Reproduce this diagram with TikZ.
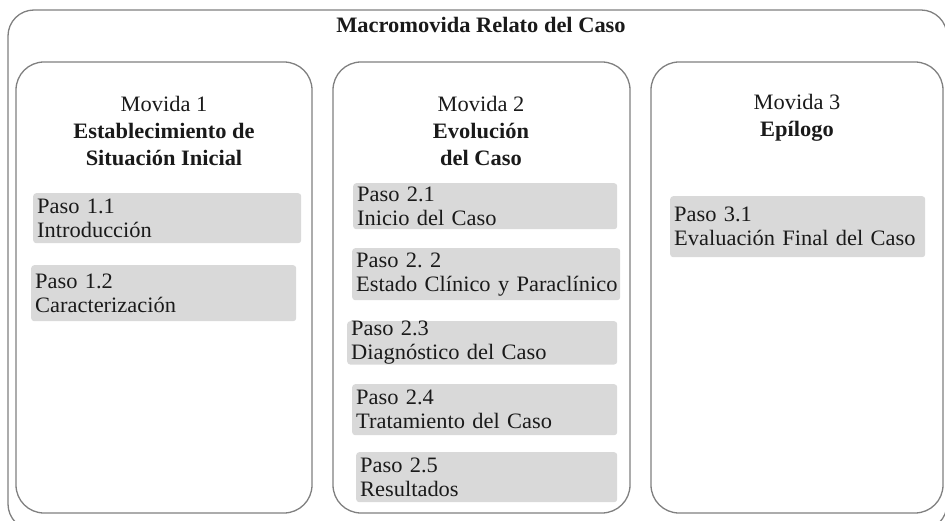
\documentclass[tikz,border=0pt]{standalone}
\usepackage{fontspec}
\setmainfont[FakeStretch=1.02]{Liberation Serif}
\usepackage{tikz}
\usetikzlibrary{calc}
\usetikzlibrary{shapes}
\definecolor{pasogris}{HTML}{D9D9D9}
\definecolor{bordegris}{HTML}{808080}
\definecolor{textogris}{HTML}{1A1A1A}
\frenchspacing
\tikzset{
  marco/.style={draw=bordegris, line width=1.3pt, rounded corners=#1, inner sep=0pt},
  movbox/.style={marco=28pt, minimum height=451pt},
  cabecera/.style={align=center, text=textogris, font=\fontsize{22}{27}\selectfont},
  pasobox/.style 2 args={fill=pasogris, rounded corners=3pt, anchor=north west, align=left,
    inner xsep=4pt, inner ysep=0pt, text width=#1-8pt, minimum height=#2,
    text=textogris, font=\fontsize{22}{24}\selectfont}
}

\begin{document}
\begin{tikzpicture}[x=1pt,y=-1pt]
  \useasboundingbox (0,0) rectangle (945,521);

  \node[marco=26pt, minimum width=939pt, minimum height=520pt] (macro) at (477.5,270) {};
  \node[font=\fontsize{22}{24}\selectfont\bfseries, text=textogris] (titulo) at (481,25) {Macromovida Relato del Caso};

  \node[movbox, minimum width=296pt] (mov1) at (164,287.5) {};
  \node[movbox, minimum width=297pt] (mov2) at (481.5,287.5) {};
  \node[movbox, minimum width=292pt] (mov3) at (797,287.5) {};

  \node[cabecera] (cab1) at (164,131) {Movida 1\\\textbf{Establecimiento de}\\\textbf{Situación Inicial}};
  \node[cabecera] (cab2) at (481,131) {Movida 2\\\textbf{Evolución}\\\textbf{del Caso}};
  \node[cabecera] (cab3) at (797,117.5) {Movida 3\\\textbf{Epílogo}};

  \node[pasobox={268pt}{50pt}] (p11) at (33,193) {Paso 1.1\\Introducción};
  \node[pasobox={265pt}{56pt}] (p12) at (31,265) {Paso 1.2\\Caracterización};

  \node[pasobox={264pt}{46pt}] (p21) at (353,183) {Paso 2.1\\Inicio del Caso};
  \node[pasobox={268pt}{52pt}] (p22) at (352,248) {Paso 2. 2\\\mbox{Estado Clínico y Paraclínico}};
  \node[pasobox={270pt}{42pt}] (p23) at (347,321) {Paso 2.3\\Diagnóstico del Caso};
  \node[pasobox={265pt}{51pt}] (p24) at (352,384) {Paso 2.4\\Tratamiento del Caso};
  \node[pasobox={261pt}{50pt}] (p25) at (356,452) {Paso 2.5\\Resultados};

  \node[pasobox={255pt}{61pt}] (p31) at (670,196) {Paso 3.1\\\mbox{Evaluación Final del Caso}};

\end{tikzpicture}
\end{document}
